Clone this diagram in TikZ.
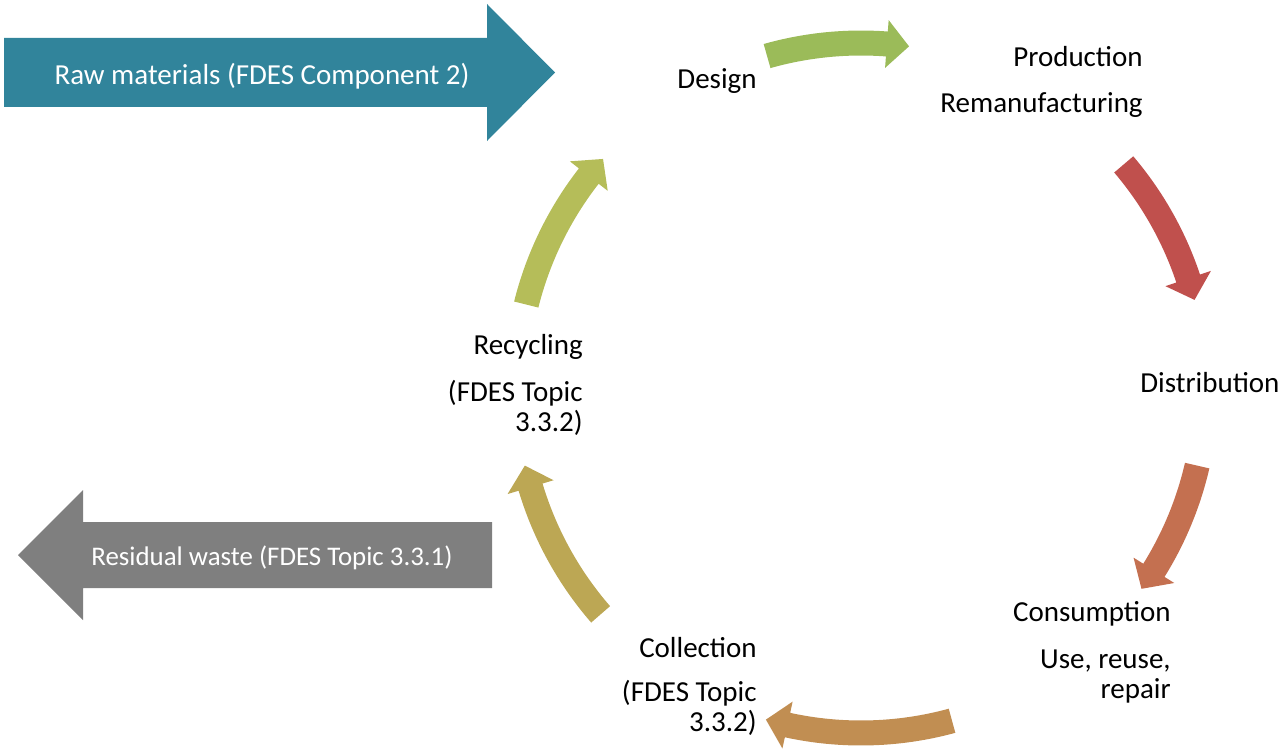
\documentclass[tikz,border=0pt]{standalone}
\usepackage{fontspec}
\setmainfont{Carlito}

\definecolor{rawteal}{RGB}{49,132,155}
\definecolor{wastegrey}{RGB}{127,127,127}
\definecolor{designgreen}{RGB}{155,187,89}
\definecolor{prodred}{RGB}{192,80,77}
\definecolor{distorange}{RGB}{196,112,80}
\definecolor{consbrown}{RGB}{193,142,82}
\definecolor{collolive}{RGB}{188,167,84}
\definecolor{recyolive}{RGB}{181,189,89}

\tikzset{
  stage/.style={font=\fontsize{16.5}{17}\selectfont, inner sep=0pt, align=right},
  flowtext/.style={font=\fontsize{16.5}{17}\selectfont, text=white, inner sep=0pt},
}

% curved block arrow on the cycle: start angle, tip angle, colour
\newcommand{\cyclearrow}[3]{%
  \pgfmathsetmacro{\headang}{#2+3.7}%
  \fill[#3] (#1:357.5) arc[start angle=#1, end angle=\headang, radius=357.5]
    -- (\headang:369) -- (#2:345) -- (\headang:321) -- (\headang:332.5)
    arc[start angle=\headang, end angle=#1, radius=332.5] -- cycle;}

\begin{document}
\begin{tikzpicture}[x=0.02cm, y=-0.02cm]
    \useasboundingbox (0,0) rectangle (1281,750);

    % flows in and out
    \fill[rawteal] (4,38) -- (487,38) -- (487,4) -- (555,72.5) -- (487,141)
      -- (487,107) -- (4,107) -- cycle;
    \node[flowtext] (raw) at (262,76) {Raw materials (FDES Component 2)};
    \fill[wastegrey] (18,555) -- (83,490) -- (83,522) -- (492,522) -- (492,588)
      -- (83,588) -- (83,620) -- cycle;
    \node[flowtext, font=\fontsize{15.3}{17}\selectfont] (waste) at (272,558) {Residual waste (FDES Topic 3.3.1)};

    % the cycle
    \begin{scope}[shift={(861,388)}, yscale=-1]
      \cyclearrow{105.8}{82}{designgreen}
      \cyclearrow{40.4}{14.8}{prodred}
      \cyclearrow{-13}{-35.6}{distorange}
      \cyclearrow{-74.7}{-106}{consbrown}
      \cyclearrow{-139}{-167}{collolive}
      \cyclearrow{166}{138.4}{recyolive}
    \end{scope}

    \node[stage, anchor=north] (design) at (717,68) {Design};
    \node[stage, anchor=north east] (production) at (1143,46) {Production\\[9pt]Remanufacturing};
    \node[stage, anchor=north west] (distribution) at (1140,372) {Distribution};
    \node[stage, anchor=north east] (consumption) at (1171,601) {Consumption\\[10pt]Use, reuse,\\repair};
    \node[stage, anchor=north east] (collection) at (757,637) {Collection\\[8pt](FDES Topic\\3.3.2)};
    \node[stage, anchor=north east] (recycling) at (583,334) {Recycling\\[10pt](FDES Topic\\3.3.2)};
\end{tikzpicture}
\end{document}
